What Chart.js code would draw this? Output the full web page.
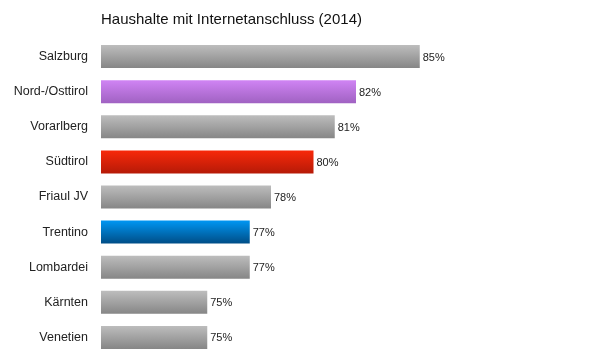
<!DOCTYPE html>
<html>
<head>
<meta charset="utf-8">
<script src="https://cdn.jsdelivr.net/npm/chart.js@4"></script>
<style>
  html, body { margin: 0; padding: 0; background: #fff; }
  #wrap { width: 600px; height: 363px; }
</style>
</head>
<body>
<div id="wrap"><canvas id="chart" width="600" height="363"></canvas></div>
<script>
// Data
const regions = ['Salzburg', 'Nord-/Osttirol', 'Vorarlberg', 'Südtirol', 'Friaul JV', 'Trentino', 'Lombardei', 'Kärnten', 'Venetien'];
const shares = [85, 82, 81, 80, 78, 77, 77, 75, 75];
const chartTitle = 'Haushalte mit Internetanschluss (2014)';

// bar gradient colours (top, bottom)
const gray = ['#bdbdbd', '#868686'];
const barColors = [gray, ['#d084f4', '#a062c2'], gray, ['#f8290a', '#b61a07'], gray, ['#0096f2', '#004d86'], gray, gray, gray];

const FONT = '"Liberation Sans", Arial, Helvetica, sans-serif';

function barFill(ctx) {
  const chart = ctx.chart;
  if (!chart.chartArea || !chart.scales.y) return barColors[ctx.dataIndex][1];
  const yScale = chart.scales.y;
  const y = yScale.getPixelForValue(ctx.dataIndex);
  const half = 11.5;
  const g = chart.ctx.createLinearGradient(0, y - half, 0, y + half);
  g.addColorStop(0, barColors[ctx.dataIndex][0]);
  g.addColorStop(1, barColors[ctx.dataIndex][1]);
  return g;
}

const valueLabels = {
  id: 'valueLabels',
  afterDatasetsDraw(chart) {
    const c = chart.ctx;
    c.save();
    c.font = '11px ' + FONT;
    c.fillStyle = '#222';
    c.textBaseline = 'middle';
    c.textAlign = 'left';
    chart.getDatasetMeta(0).data.forEach((bar, i) => {
      c.fillText(shares[i] + '%', bar.x + 3, bar.y + 1);
    });
    // title
    c.font = '15px ' + FONT;
    c.fillStyle = '#111';
    c.fillText(chartTitle, chart.chartArea.left, 20);
    c.restore();
  }
};

new Chart(document.getElementById('chart'), {
  type: 'bar',
  data: {
    labels: regions,
    datasets: [{
      data: shares,
      backgroundColor: barFill,
      borderWidth: 0,
      barPercentage: 0.655,
      categoryPercentage: 1
    }]
  },
  options: {
    indexAxis: 'y',
    responsive: false,
    animation: false,
    layout: { padding: { top: 39, bottom: 8, left: 0, right: 74 } },
    plugins: {
      legend: { display: false },
      tooltip: { enabled: false },
      title: { display: false }
    },
    scales: {
      x: {
        display: false,
        min: 70,
        max: 90
      },
      y: {
        grid: { display: false, drawTicks: false },
        border: { display: false },
        ticks: {
          color: '#222',
          font: { size: 12.5, family: FONT },
          padding: 13
        },
        afterFit(scale) {
          scale.width = 101;
          // keep label padding from eating the bottom space
          scale.paddingTop = 0;
          scale.paddingBottom = 0;
        }
      }
    }
  },
  plugins: [valueLabels]
});
</script>
</body>
</html>
